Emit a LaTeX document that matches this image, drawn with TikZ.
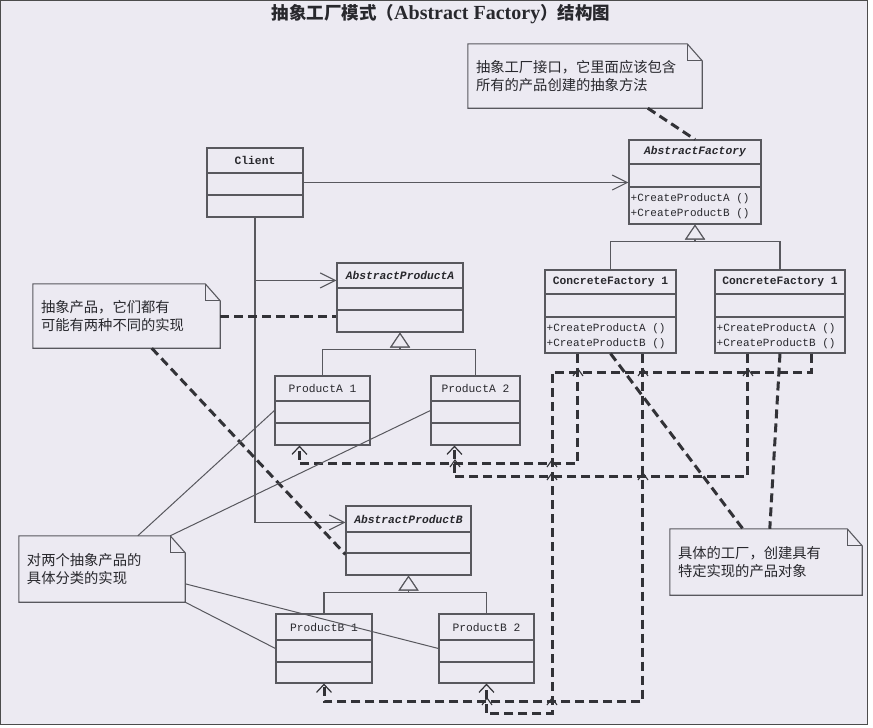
\documentclass[tikz,border=0pt]{standalone}
\usepackage{fontspec}
\usepackage{xcolor}
\usepackage{tikz}
\usetikzlibrary{arrows.meta, calc, positioning}

\newfontfamily\cjk{Noto Sans CJK SC}
\newfontfamily\clsfont{Liberation Mono}
\newfontfamily\titlelatin{Liberation Serif}

\definecolor{paper}{RGB}{236,234,242}
\definecolor{ink}{RGB}{88,88,94}
\definecolor{dashink}{RGB}{50,50,55}
\definecolor{textink}{RGB}{40,40,45}

\tikzset{
  cls/.style={draw=ink, line width=1.1pt, fill=paper, inner sep=0pt},
  clsname/.style={font=\clsfont\fontsize{11.3}{13}\selectfont, text=textink},
  meth/.style={font=\clsfont\fontsize{11}{13}\selectfont, text=textink, anchor=base west, inner sep=0pt},
  note/.style={inner xsep=8pt, inner ysep=0pt, align=left, text=textink,
    font=\cjk\fontsize{14.3}{18}\selectfont},
  notebox/.style={draw=ink, line width=1.1pt},
  titletext/.style={font=\cjk\bfseries\fontsize{17.5}{20}\selectfont, text=textink},
  assoc/.style={draw=ink, line width=1.1pt, -{Straight Barb[length=15pt, width=15pt]}},
  gen/.style={draw=ink, line width=1.1pt, -{Triangle[open, length=15pt, width=20pt, fill=paper]}},
  dep/.style={draw=dashink, line width=3pt, dash pattern=on 9pt off 5pt,
    -{Straight Barb[length=8pt, width=15pt, line width=1.2pt]}},
  notelink/.style={draw=dashink, line width=3pt, dash pattern=on 9pt off 5pt},
  thinlink/.style={draw=ink, line width=1pt},
  hop/.style={draw=dashink, line width=1.1pt},
  frame/.style={draw=black!70, line width=1.4pt}
}

% class box: name, left, top, right, bottom, divider 1, divider 2, title
\newcommand{\umlclass}[8]{%
  \node[cls, minimum width={(#4-#2)*1pt}, minimum height={(#5-#3)*1pt}] (#1) at ({(#2+#4)/2},{(#3+#5)/2}) {};
  \draw[ink, line width=1.1pt] (#2,#6) -- (#4,#6) (#2,#7) -- (#4,#7);
  \node[clsname] (#1-name) at ({(#2+#4)/2},{(#3+#6)/2}) {#8};
}

% note outline with folded corner
\newcommand{\dogear}[1]{%
  \draw[notebox] (#1.north west) -- ($(#1.north east)+(-15,0)$) -- ($(#1.north east)+(0,17)$)
    -- (#1.south east) -- (#1.south west) -- cycle;
  \draw[notebox] ($(#1.north east)+(-15,0)$) |- ($(#1.north east)+(0,17)$);
}

\begin{document}
\begin{tikzpicture}[x=1pt, y=-1pt]
  \useasboundingbox (0,0) rectangle (873,728);
  % scanned page
  \fill[paper] (0,0) rectangle (868,725);
  \draw[frame] (0.7,0.7) rectangle (867.5,724.5);

  % title
  \node[titletext] (title) at (441,14) {抽象工厂模式（{\titlelatin\fontsize{20}{22}\selectfont Abstract Factory}）结构图};

  % classes
  \umlclass{client}{207}{148}{303}{217}{173}{195}{\bfseries Client}
  \umlclass{absFactory}{629}{140}{761}{224}{164}{187}{\bfseries\itshape AbstractFactory}
  \umlclass{cf1}{545}{270}{676}{353}{294}{317}{\bfseries ConcreteFactory 1}
  \umlclass{cf2}{715}{270}{845}{353}{294}{317}{\bfseries ConcreteFactory 1}
  \umlclass{absA}{337}{263}{463}{332}{288}{310}{\bfseries\itshape AbstractProductA}
  \umlclass{prA1}{275}{376}{370}{445}{401}{423}{ProductA 1}
  \umlclass{prA2}{431}{376}{520}{445}{401}{423}{ProductA 2}
  \umlclass{absB}{346}{506}{471}{575}{532}{553}{\bfseries\itshape AbstractProductB}
  \umlclass{prB1}{276}{614}{372}{683}{640}{662}{ProductB 1}
  \umlclass{prB2}{439}{614}{534}{683}{640}{662}{ProductB 2}

  % factory methods
  \foreach \f in {absFactory, cf1, cf2} {
    \node[meth] (\f-ma) at ($(\f.north west)+(2,62)$) {+CreateProductA ()};
    \node[meth] (\f-mb) at ($(\f.north west)+(2,77)$) {+CreateProductB ()};
  }

  % notes
  \node[note, minimum height=64, text width=218] (note1) at (585,76)
    {抽象工厂接口，它里面应该包含\\所有的产品创建的抽象方法};
  \node[note, minimum height=64, text width=171] (note2) at (126.5,316)
    {抽象产品，它们都有\\可能有两种不同的实现};
  \node[note, minimum height=66, text width=176] (note3) at (766,562)
    {具体的工厂，创建具有\\特定实现的产品对象};
  \node[note, minimum height=66, text width=150] (note4) at (102,569)
    {对两个抽象产品的\\具体分类的实现};
  \foreach \n in {note1, note2, note3, note4} {\dogear{\n}}

  % inheritance
  \draw[gen] (cf1.north) -- ++(0,-28) -| (absFactory.south);
  \draw[gen] (cf2.north) -- ++(0,-28) -| (absFactory.south);
  \draw[gen] (prA1.north) -- ++(0,-26) -| (absA.south);
  \draw[gen] (prA2.north) -- ++(0,-26) -| (absA.south);
  \draw[gen] (prB1.north) -- ++(0,-21) -| (absB.south);
  \draw[gen] (prB2.north) -- ++(0,-21) -| (absB.south);

  % client associations
  \draw[assoc] (client.east) -- (client.east -| absFactory.west);
  \draw[assoc] (client.south) |- ($(absA.north west)+(0,18)$);
  \draw[assoc] (client.south) |- ($(absB.north west)+(0,17)$);

  % factories create products
  \coordinate (bend) at (552,372);
  \draw[dep] ($(cf1.south west)+(33,0)$) |- ($(prA1.south west)+(25,18)$) -- ($(prA1.south west)+(25,0)$);
  \draw[dep] ($(cf1.south west)+(98,0)$) |- ($(prB1.south)+(0,18)$) -- (prB1.south);
  \draw[dep] ($(cf2.south west)+(33,0)$) |- ($(prA2.south west)+(24,31)$) -- ($(prA2.south west)+(24,0)$);
  \draw[dep] ($(cf2.south west)+(97,0)$) |- (bend) |- ($(prB2.south)+(0,30)$) -- (prB2.south);
  % little marks where the dashed lines cross
  \foreach \x/\y in {578/372, 643/372, 748/372, 552/463, 455/463, 552/476, 643/476, 487/701, 552/701}
    \draw[hop] (\x-5,\y+4) -- (\x,\y-3) -- (\x+5,\y+4);

  % notes to classes
  \draw[notelink] ($(note1.south west)+(180,0)$) -- (absFactory.north);
  \draw[notelink] (note2.east) -- (note2.east -| absA.west);
  \draw[notelink] ($(note2.south west)+(119,0)$) -- ($(absB.north west)+(0,49)$);
  \draw[notelink] (cf1.south) -- ($(note3.north west)+(73,0)$);
  \draw[notelink] (cf2.south) -- ($(note3.north west)+(100,0)$);
  \draw[thinlink] ($(note4.north west)+(119,0)$) -- (prA1.west);
  \draw[thinlink] ($(note4.north east)+(-15,0)$) -- (prA2.west);
  \draw[thinlink] ($(note4.north east)+(0,48)$) -- (prB2.west);
  \draw[thinlink] (note4.south east) -- (prB1.west);
\end{tikzpicture}
\end{document}
